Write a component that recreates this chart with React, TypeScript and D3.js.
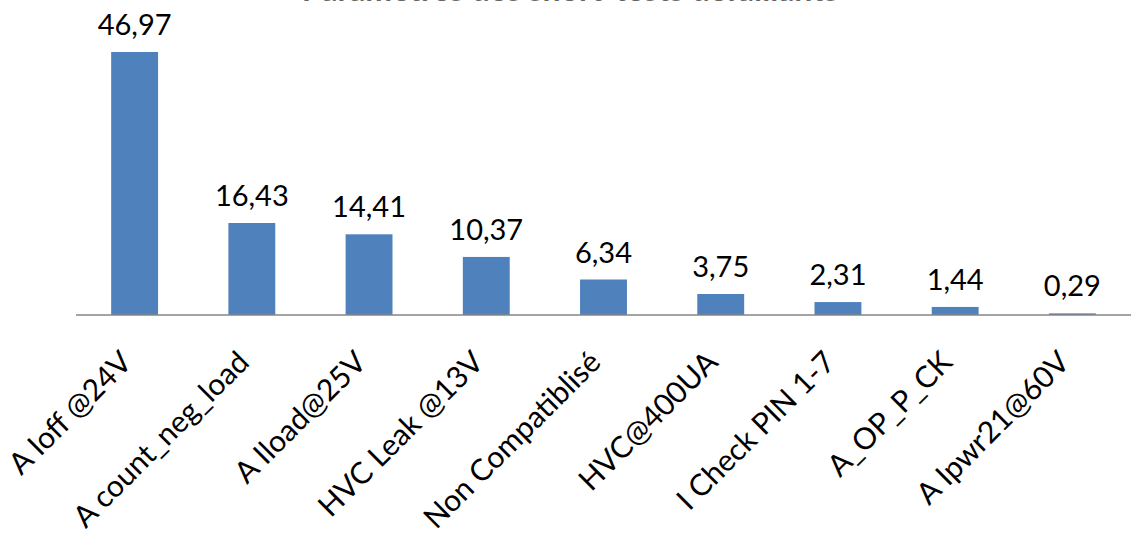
import React from "react";
import * as d3 from "d3";

const categories = [
  "A Ioff @24V",
  "A count_neg_load",
  "A Iload@25V",
  "HVC Leak @13V",
  "Non Compatiblisé",
  "HVC@400UA",
  "I Check PIN 1-7",
  "A_OP_P_CK",
  "A Ipwr21@60V",
];
const values = [46.97, 16.43, 14.41, 10.37, 6.34, 3.75, 2.31, 1.44, 0.29];
const valueLabels = ["46,97", "16,43", "14,41", "10,37", "6,34", "3,75", "2,31", "1,44", "0,29"];
const title = "Paramètres des short-tests défaillants";

const W = 1139;
const H = 546;
const FONT = "Lato, 'Open Sans', sans-serif";

export default function App() {
  const x = d3.scaleBand<string>().domain(categories).range([76, 1131]).paddingInner(0.6).paddingOuter(0.3);
  const y = d3.scaleLinear().domain([0, 46.97]).range([315, 52]);
  const bw = x.bandwidth();
  return (
    <svg width={W} height={H} style={{ position: "fixed", left: 0, top: 0, background: "#fff" }}>
      <text x={570} y={0.5} textAnchor="middle" fontFamily={FONT} fontWeight="bold" fontSize={32} fill="#000" opacity={0.6}>
        {title}
      </text>
      {categories.map((c, i) => {
        const cx = (x(c) as number) + bw / 2;
        return (
          <g key={c}>
            <rect x={x(c)} y={y(values[i])} width={bw} height={y(0) - y(values[i])} fill="#4F81BD" />
            <text x={cx} y={y(values[i]) - 17} textAnchor="middle" fontFamily={FONT} fontSize={29} fill="#000">
              {valueLabels[i]}
            </text>
            <text
              transform={`translate(${cx - 1},${364}) rotate(-45)`}
              textAnchor="end"
              fontFamily={FONT}
              fontSize={30}
              fill="#000"
            >
              {c}
            </text>
          </g>
        );
      })}
      <line x1={76} x2={1131} y1={y(0)} y2={y(0)} stroke="#868686" strokeWidth={1.5} />
    </svg>
  );
}
